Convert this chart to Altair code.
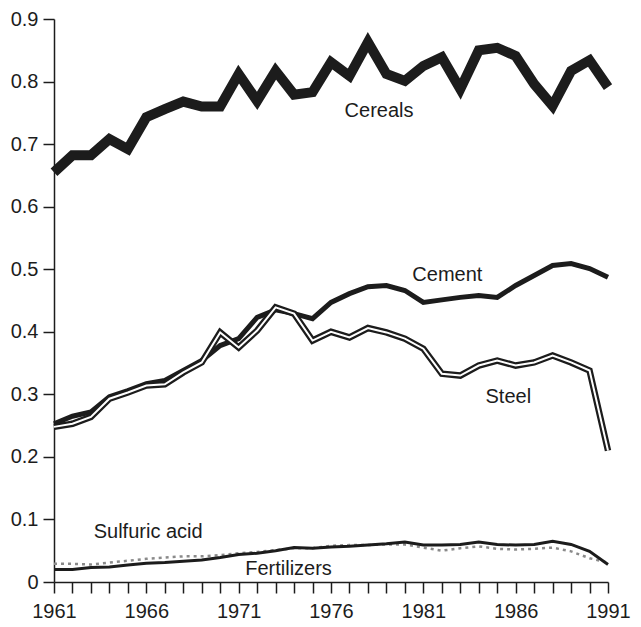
import altair as alt
import pandas as pd

years = list(range(1961, 1992))

cereals = [0.655, 0.682, 0.682, 0.708, 0.692, 0.743, 0.756, 0.768, 0.760, 0.760,
           0.812, 0.769, 0.817, 0.779, 0.783, 0.831, 0.809, 0.863, 0.812, 0.801,
           0.825, 0.839, 0.788, 0.850, 0.854, 0.841, 0.796, 0.761, 0.817, 0.834, 0.791]

cement = [0.253, 0.265, 0.272, 0.296, 0.306, 0.317, 0.322, 0.338, 0.354, 0.378,
          0.389, 0.423, 0.435, 0.429, 0.421, 0.447, 0.461, 0.472, 0.474, 0.466,
          0.447, 0.451, 0.455, 0.458, 0.455, 0.474, 0.490, 0.506, 0.509, 0.501, 0.487]

steel = [0.248, 0.253, 0.264, 0.293, 0.303, 0.314, 0.316, 0.335, 0.351, 0.399,
         0.375, 0.402, 0.439, 0.429, 0.386, 0.400, 0.391, 0.406, 0.399, 0.389,
         0.373, 0.333, 0.330, 0.346, 0.354, 0.346, 0.351, 0.362, 0.351, 0.338, 0.210]

fertilizers = [0.020, 0.020, 0.023, 0.024, 0.027, 0.030, 0.031, 0.033, 0.035, 0.039,
               0.044, 0.046, 0.050, 0.055, 0.054, 0.056, 0.057, 0.059, 0.061, 0.064,
               0.059, 0.059, 0.060, 0.064, 0.060, 0.059, 0.060, 0.065, 0.060, 0.049, 0.028]

sulfuric = [0.029, 0.029, 0.028, 0.031, 0.034, 0.037, 0.039, 0.041, 0.041, 0.043,
            0.046, 0.048, 0.051, 0.054, 0.054, 0.058, 0.059, 0.059, 0.060, 0.060,
            0.055, 0.050, 0.054, 0.057, 0.053, 0.052, 0.053, 0.055, 0.049, 0.038, 0.031]

label_text = ["Cereals", "Cement", "Steel", "Sulfuric acid", "Fertilizers"]
label_year = [1978.6, 1982.3, 1985.6, 1966.1, 1973.7]
label_value = [0.753, 0.490, 0.296, 0.080, 0.021]

series = {
    "Cereals": cereals,
    "Cement": cement,
    "Steel": steel,
    "Fertilizers": fertilizers,
    "Sulfuric acid": sulfuric,
}
rows = []
for name, vals in series.items():
    for y, v in zip(years, vals):
        rows.append({"year": y, "value": v, "series": name})
df = pd.DataFrame(rows)
labels = pd.DataFrame({"text": label_text, "year": label_year, "value": label_value})

FONT = "Liberation Sans"
INK = "#1c1c1c"

x = alt.X("year:Q",
          scale=alt.Scale(domain=[1961, 1991], nice=False, zero=False),
          axis=alt.Axis(values=years, tickCount=100, format="d", title=None,
                        labelOverlap=False, labelFlush=False,
                        labelExpr="(datum.value - 1961) % 5 == 0 ? datum.label : ''",
                        tickSize=11, labelPadding=8, grid=False))
y = alt.Y("value:Q",
          scale=alt.Scale(domain=[0, 0.9], nice=False),
          axis=alt.Axis(values=[0, 0.1, 0.2, 0.3, 0.4, 0.5, 0.6, 0.7, 0.8, 0.9],
                        tickCount=100, title=None, grid=False, tickSize=11,
                        labelPadding=5, labelOverlap=False, labelFlush=False,
                        labelExpr="datum.value == 0 ? '0' : format(datum.value, '.1f')"))

base = alt.Chart(df)

def line(name, color, width, dash=None, cap="butt"):
    kw = dict(color=color, strokeWidth=width, strokeJoin="miter", strokeCap=cap)
    if dash:
        kw["strokeDash"] = dash
    return base.transform_filter(alt.datum.series == name).mark_line(**kw).encode(x=x, y=y)

layers = [
    line("Sulfuric acid", "#8a8a8a", 2.5, dash=[3, 4]),
    line("Fertilizers", INK, 3),
    line("Cement", INK, 5),
    line("Steel", INK, 6.5),
    line("Steel", "white", 2),
    line("Cereals", INK, 10),
]

text = alt.Chart(labels).mark_text(font=FONT, fontSize=20, color=INK,
                                   align="center", baseline="middle").encode(
    x=alt.X("year:Q"), y=alt.Y("value:Q"), text="text:N")

chart = alt.layer(*layers, text).properties(
    width=554, height=563,
    autosize=alt.AutoSizeParams(type="none"),
    padding={"left": 46, "top": 11, "right": 24, "bottom": 44},
    background="white",
).configure_view(stroke=None).configure_axis(
    domainColor=INK, tickColor=INK, domainWidth=1.5, tickWidth=1.5,
    labelFont=FONT, labelFontSize=20, labelColor=INK,
)

chart.save("out.html", embed_options={"renderer": "svg", "actions": False})
